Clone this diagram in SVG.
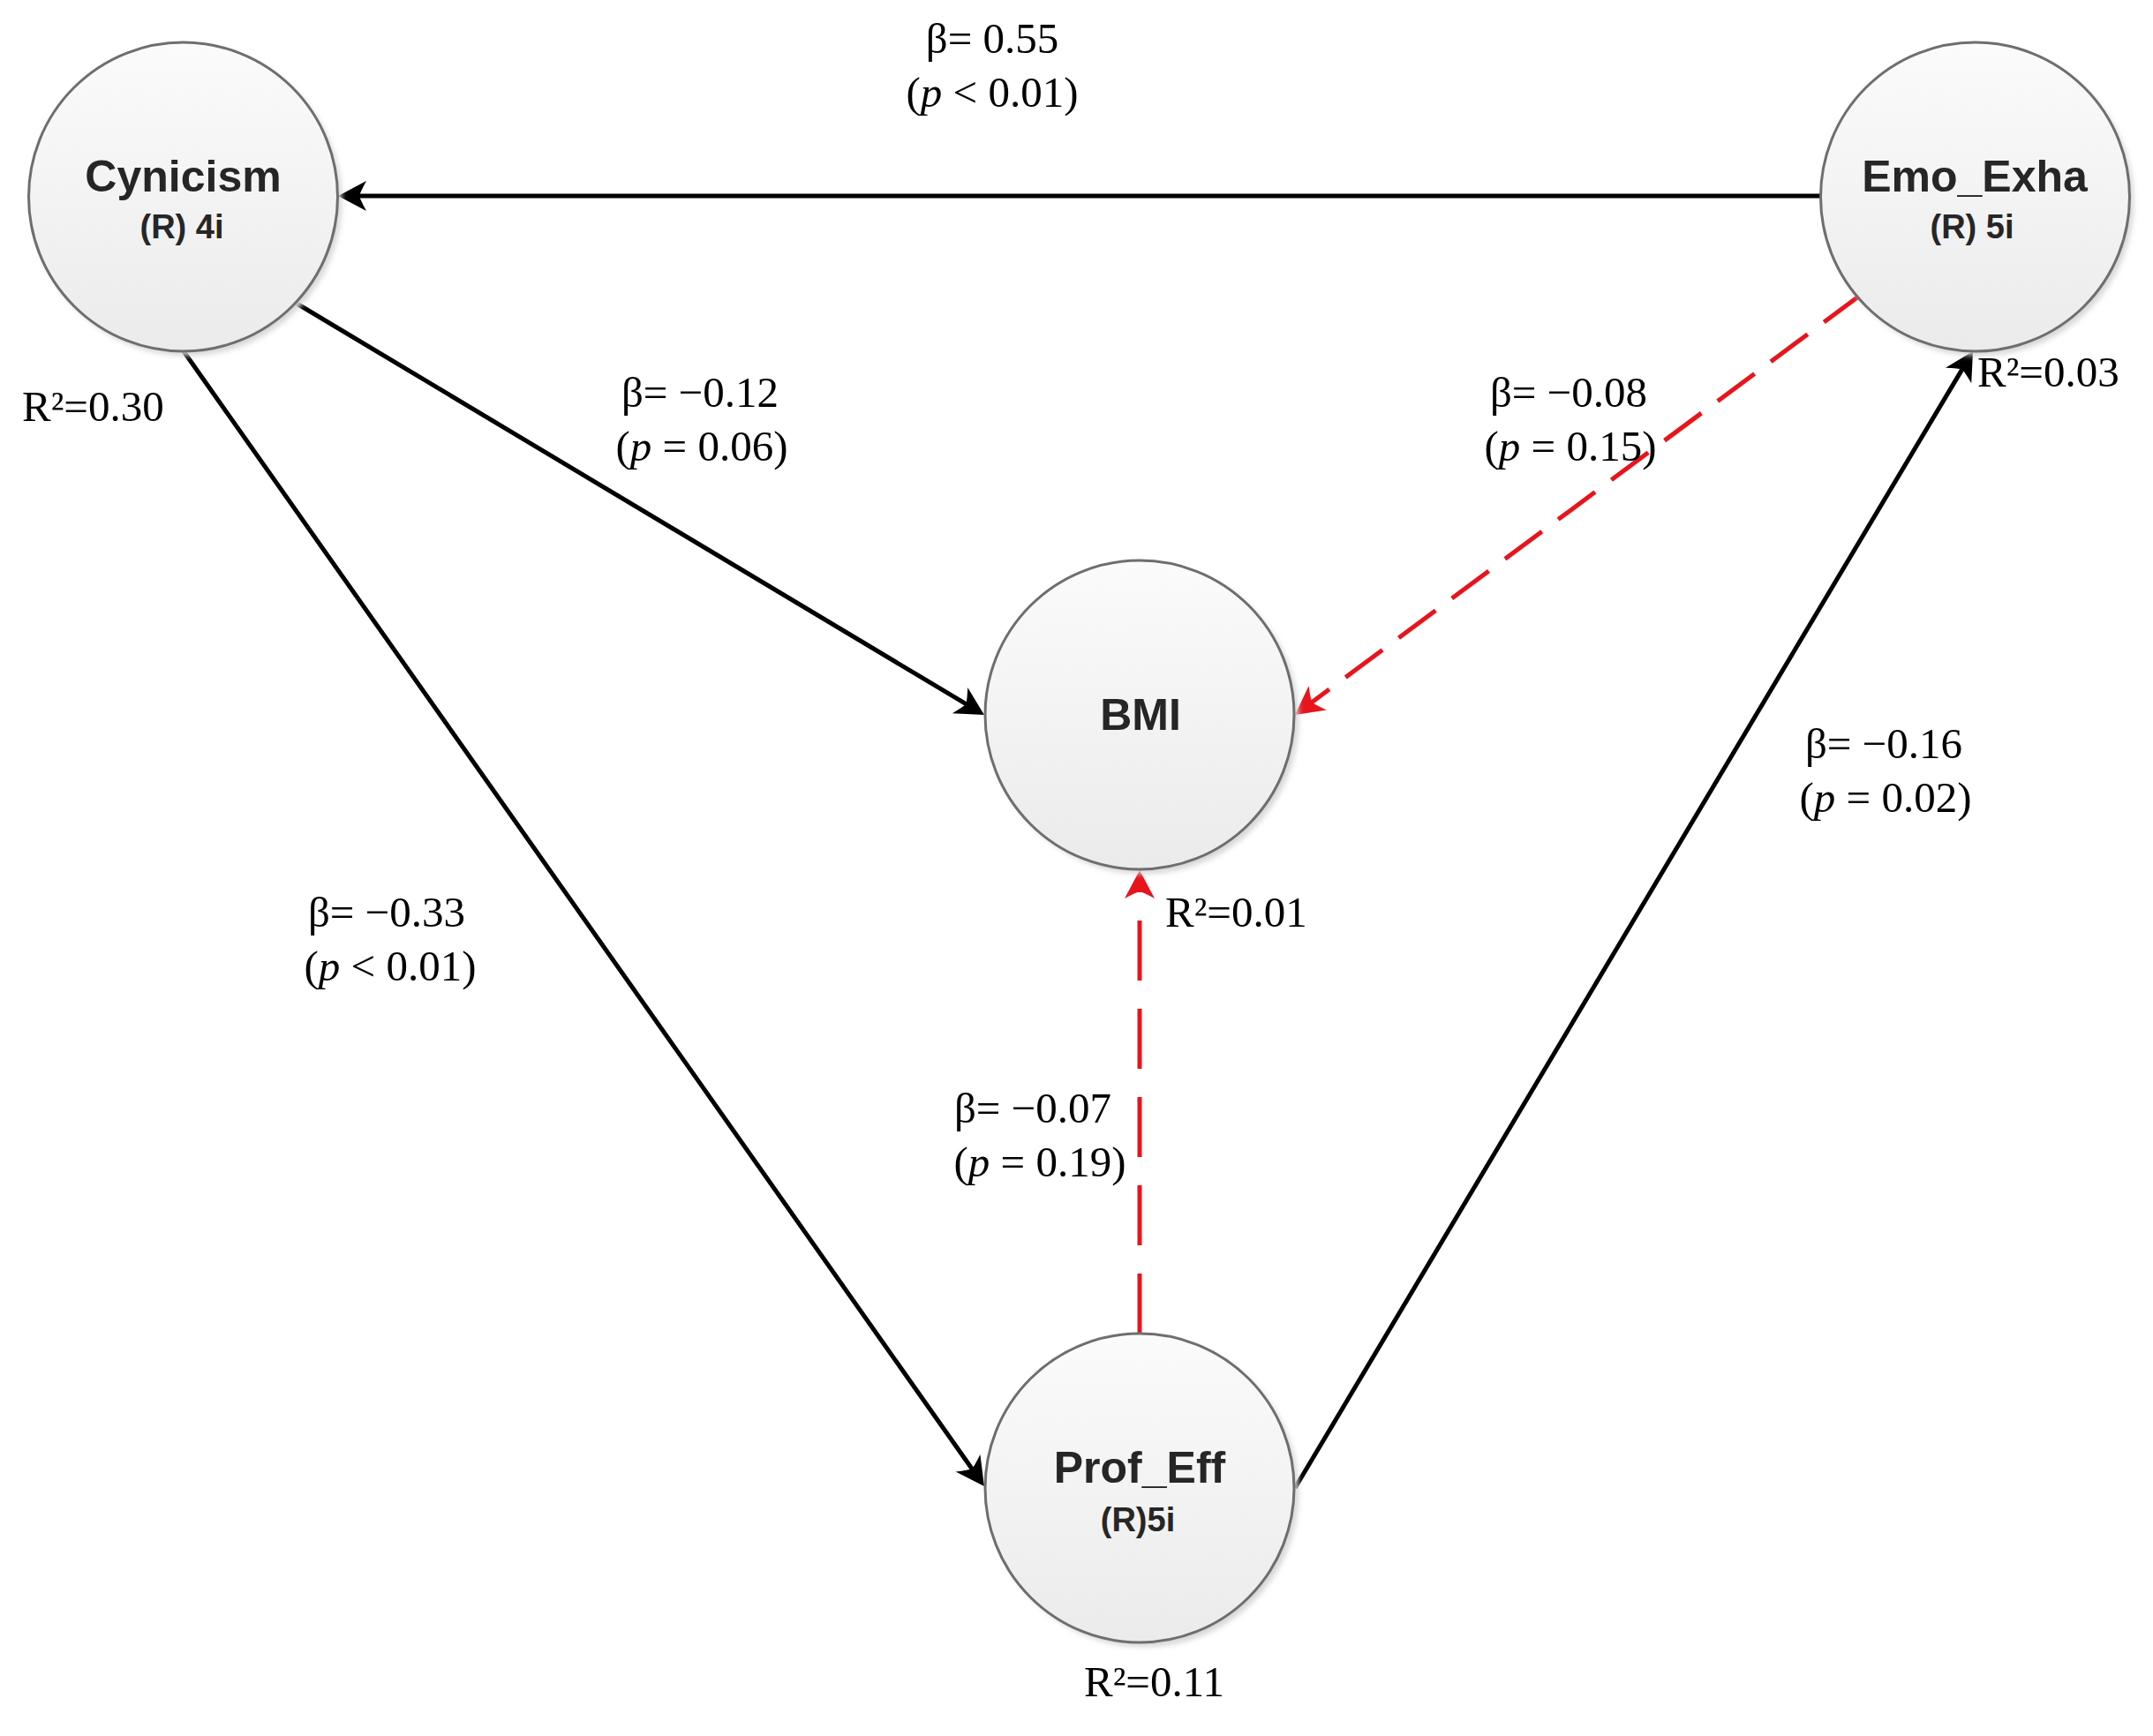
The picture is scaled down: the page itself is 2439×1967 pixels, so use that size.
<svg xmlns="http://www.w3.org/2000/svg" width="2439" height="1967" viewBox="0 0 2439 1967">
<style>
.node{fill:url(#g);stroke:#6e6e6e;stroke-width:3}
.shadow{fill:#d6d6d6;filter:url(#blur)}
.title{font-family:"Liberation Sans",Arial,sans-serif;font-weight:bold;font-size:50px;fill:#262626;text-anchor:middle}
.sub{font-family:"Liberation Sans",Arial,sans-serif;font-weight:bold;font-size:38px;fill:#262626;text-anchor:middle}
.lbl{font-family:"Liberation Serif","Times New Roman",serif;font-size:49px;fill:#000;text-anchor:middle}
.r2{font-family:"Liberation Serif","Times New Roman",serif;font-size:49px;fill:#000}
.blk{stroke:#000;stroke-width:5;fill:none}
.red{stroke:#e8141c;stroke-width:5;fill:none}
</style>
<defs>
<linearGradient id="g" x1="0" y1="0" x2="0" y2="1">
<stop offset="0" stop-color="#fbfbfb"/>
<stop offset="1" stop-color="#ebebeb"/>
</linearGradient>
<filter id="blur" x="-20%" y="-20%" width="140%" height="140%"><feGaussianBlur stdDeviation="3"/></filter>
<marker id="ab" markerUnits="userSpaceOnUse" markerWidth="50" markerHeight="50" viewBox="-30 -25 50 50" refX="0" refY="0" orient="auto">
<path d="M10,0 L-22,-17 Q-15,-4 -14,0 Q-15,4 -22,17 Z" fill="#000"/>
</marker>
<marker id="ar" markerUnits="userSpaceOnUse" markerWidth="50" markerHeight="50" viewBox="-30 -25 50 50" refX="0" refY="0" orient="auto">
<path d="M10,0 L-22,-17 Q-15,-4 -14,0 Q-15,4 -22,17 Z" fill="#e8141c"/>
</marker>
</defs>
<rect width="2439" height="1967" fill="#fff"/>

<g id="connectors">
<line class="blk" x1="2062" y1="222" x2="393" y2="222" marker-end="url(#ab)"/>
<line class="blk" x1="333" y1="342" x2="1106.4" y2="804.9" marker-end="url(#ab)"/>
<line class="blk" x1="208" y1="398" x2="1109.2" y2="1675.8" marker-end="url(#ab)"/>
<line class="blk" x1="1467" y1="1686" x2="2229.9" y2="406.6" marker-end="url(#ab)"/>
<line class="red" x1="2108" y1="334" x2="1475" y2="804" stroke-dasharray="52 23" marker-end="url(#ar)"/>
<line class="red" x1="1291" y1="1511" x2="1291" y2="996" stroke-dasharray="68 32" marker-end="url(#ar)"/>
</g>

<g id="node-cynicism">
<circle class="shadow" cx="212" cy="228" r="175"/>
<circle class="node" cx="207.5" cy="223" r="175"/>
<text class="title" x="207.5" y="217">Cynicism</text>
<text class="sub" x="206" y="270">(R) 4i</text>
</g>
<g id="node-emo">
<circle class="shadow" cx="2242" cy="228" r="175"/>
<circle class="node" cx="2237.5" cy="223" r="175"/>
<text class="title" x="2237" y="217">Emo_Exha</text>
<text class="sub" x="2234" y="270">(R) 5i</text>
</g>
<g id="node-bmi">
<circle class="shadow" cx="1296" cy="815" r="175"/>
<circle class="node" cx="1291" cy="810" r="175"/>
<text class="title" x="1292" y="827">BMI</text>
</g>
<g id="node-prof">
<circle class="shadow" cx="1296" cy="1691" r="175"/>
<circle class="node" cx="1291" cy="1686" r="175"/>
<text class="title" x="1291" y="1680">Prof_Eff</text>
<text class="sub" x="1289" y="1735">(R)5i</text>
</g>

<g id="labels">
<text class="lbl" x="1124" y="60">β= 0.55</text>
<text class="lbl" x="1124" y="121">(<tspan font-style="italic">p</tspan> &lt; 0.01)</text>
<text class="lbl" x="793" y="461">β= −0.12</text>
<text class="lbl" x="795" y="522">(<tspan font-style="italic">p</tspan> = 0.06)</text>
<text class="lbl" x="1777" y="461">β= −0.08</text>
<text class="lbl" x="1779" y="522">(<tspan font-style="italic">p</tspan> = 0.15)</text>
<text class="lbl" x="2134" y="859">β= −0.16</text>
<text class="lbl" x="2136" y="920">(<tspan font-style="italic">p</tspan> = 0.02)</text>
<text class="lbl" x="438" y="1050">β= −0.33</text>
<text class="lbl" x="442" y="1111">(<tspan font-style="italic">p</tspan> &lt; 0.01)</text>
<text class="lbl" x="1170" y="1272">β= −0.07</text>
<text class="lbl" x="1178" y="1333">(<tspan font-style="italic">p</tspan> = 0.19)</text>
<text class="r2" x="25" y="477">R²=0.30</text>
<text class="r2" x="2240" y="438">R²=0.03</text>
<text class="r2" x="1320" y="1050">R²=0.01</text>
<text class="r2" x="1228" y="1922">R²=0.11</text>
</g>
</svg>
